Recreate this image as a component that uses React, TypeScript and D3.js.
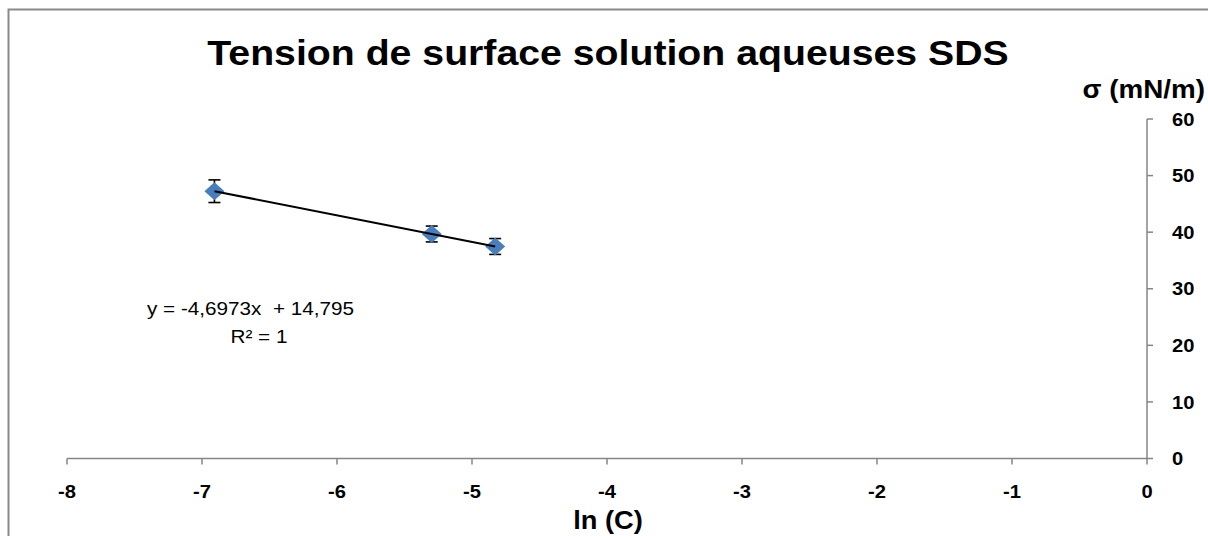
import * as d3 from "d3";
import React from "react";

// ln(C) of the three SDS concentrations and the measured surface tension
const lnC = [-6.9078, -5.2983, -4.8283];
const sigma = [47.24, 39.68, 37.47];
const sigmaErr = [2.0, 1.4, 1.4];

const xTicks = [-8, -7, -6, -5, -4, -3, -2, -1, 0];
const yTicks = [0, 10, 20, 30, 40, 50, 60];

const title = "Tension de surface solution aqueuses SDS";
const xTitle = "ln (C)";
const yTitle = "σ (mN/m)";
const eqLines = ["y = -4,6973x\u00a0 + 14,795", "R² = 1"];

const font = "'Liberation Sans', Arial, sans-serif";
const axisColor = "#868686";
const markerColor = "#4a7ebb";
const stretch = 1.09; // the reference text is slightly wider than normal

const W = 1208;
const H = 536;

const App: React.FC = () => {
  const x = d3.scaleLinear().domain([-8, 0]).range([67, 1147]);
  const y = d3.scaleLinear().domain([0, 60]).range([458.5, 119]);

  // least squares trend line
  const mx = d3.mean(lnC)!;
  const my = d3.mean(sigma)!;
  const slope =
    d3.sum(lnC, (v, i) => (v - mx) * (sigma[i] - my)) /
    d3.sum(lnC, (v) => (v - mx) ** 2);
  const icpt = my - slope * mx;
  const x0 = d3.min(lnC)!;
  const x1 = d3.max(lnC)!;

  const square = d3.symbol().type(d3.symbolSquare).size(200)();

  const txt = (
    key: string,
    tx: number,
    ty: number,
    s: string,
    size: number,
    anchor: string,
    bold = true
  ) => (
    <text
      key={key}
      transform={`translate(${tx},${ty}) scale(${stretch},1)`}
      textAnchor={anchor}
      fontFamily={font}
      fontSize={size}
      fontWeight={bold ? "bold" : "normal"}
      fill="#000"
    >
      {s}
    </text>
  );

  return (
    <svg
      width={W}
      height={H}
      style={{ position: "fixed", left: 0, top: 0, background: "#fff" }}
    >
      <rect x={0} y={0} width={W} height={H} fill="#fff" />
      <rect
        x={8.5}
        y={9.5}
        width={W + 20}
        height={H + 20}
        fill="none"
        stroke="#898989"
        strokeWidth={2}
      />

      {txt("title", 608, 65, title, 36, "middle")}

      {/* x axis */}
      <line
        x1={x(-8)}
        x2={x(0)}
        y1={y(0)}
        y2={y(0)}
        stroke={axisColor}
        strokeWidth={1.5}
      />
      {xTicks.map((t) => (
        <g key={"xt" + t}>
          <line
            x1={x(t)}
            x2={x(t)}
            y1={y(0)}
            y2={y(0) + 6}
            stroke={axisColor}
            strokeWidth={1.5}
          />
          {txt("xl" + t, x(t), 498, String(t), 18.5, "middle")}
        </g>
      ))}

      {/* y axis on the right */}
      <line
        x1={x(0)}
        x2={x(0)}
        y1={y(0)}
        y2={y(60)}
        stroke={axisColor}
        strokeWidth={1.5}
      />
      {yTicks.map((t) => (
        <g key={"yt" + t}>
          <line
            x1={x(0)}
            x2={x(0) + 6}
            y1={y(t)}
            y2={y(t)}
            stroke={axisColor}
            strokeWidth={1.5}
          />
          {txt("yl" + t, 1172, y(t) + 6.6, String(t), 18.5, "start")}
        </g>
      ))}

      {txt("xtitle", 608, 529, xTitle, 25, "middle")}
      {txt("ytitle", 1205, 98, yTitle, 25.5, "end")}

      {/* error bars */}
      {lnC.map((v, i) => (
        <g key={"e" + i} stroke="#000" strokeWidth={1.6}>
          <line
            x1={x(v)}
            x2={x(v)}
            y1={y(sigma[i] - sigmaErr[i])}
            y2={y(sigma[i] + sigmaErr[i])}
          />
          <line
            x1={x(v) - 6}
            x2={x(v) + 6}
            y1={y(sigma[i] - sigmaErr[i])}
            y2={y(sigma[i] - sigmaErr[i])}
          />
          <line
            x1={x(v) - 6}
            x2={x(v) + 6}
            y1={y(sigma[i] + sigmaErr[i])}
            y2={y(sigma[i] + sigmaErr[i])}
          />
        </g>
      ))}

      {/* diamond markers */}
      {lnC.map((v, i) => (
        <path
          key={"m" + i}
          d={square!}
          transform={`translate(${x(v)},${y(sigma[i])}) scale(1,0.9) rotate(45)`}
          fill={markerColor}
        />
      ))}

      {/* trend line */}
      <line
        x1={x(x0)}
        x2={x(x1)}
        y1={y(slope * x0 + icpt)}
        y2={y(slope * x1 + icpt)}
        stroke="#000"
        strokeWidth={2}
      />

      {txt("eq", 147, 315, eqLines[0], 19, "start", false)}
      {txt("r2", 259, 343, eqLines[1], 19, "middle", false)}
    </svg>
  );
};

export default App;
